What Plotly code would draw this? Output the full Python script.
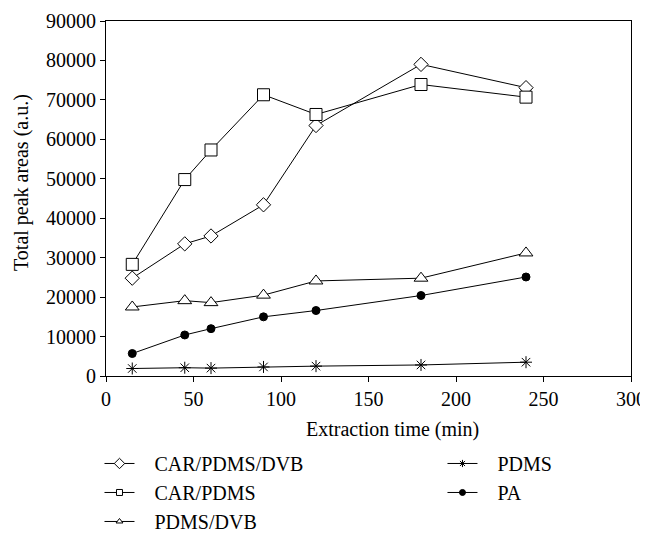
import plotly.graph_objects as go

time_min = [15, 45, 60, 90, 120, 180, 240]
car_pdms_dvb = [24800, 33500, 35500, 43400, 63500, 79000, 73100]
car_pdms = [28300, 49800, 57300, 71300, 66300, 73900, 70700]
pdms_dvb = [17500, 19100, 18600, 20500, 24100, 24800, 31200]
pdms = [1900, 2100, 2000, 2300, 2500, 2800, 3500]
pa = [5700, 10400, 12000, 15000, 16600, 20400, 25100]

FONT = "Liberation Serif"
FS = 20
PAD = "\u00a0\u00a0\u00a0"

fig = go.Figure()

def add(name, y, symbol, size, legend, lsize):
    fill = "black" if symbol in ("circle", "asterisk-open") else "white"
    fig.add_trace(go.Scatter(
        x=time_min, y=y, name=name, mode="lines+markers",
        line=dict(color="black", width=1),
        marker=dict(symbol=symbol, size=size, color=fill, line=dict(color="black", width=1)),
        showlegend=False,
    ))
    # legend entry with small marker (same style)
    fig.add_trace(go.Scatter(
        x=[None], y=[None], name=PAD + name, mode="lines+markers",
        line=dict(color="black", width=1),
        marker=dict(symbol=symbol, size=lsize, color=fill, line=dict(color="black", width=1)),
        legend=legend, showlegend=True,
    ))

add("CAR/PDMS/DVB", car_pdms_dvb, "diamond", 11, "legend", 8)
add("CAR/PDMS", car_pdms, "square", 12, "legend", 6)
add("PDMS/DVB", pdms_dvb, "triangle-up", 12, "legend", 6)
add("PDMS", pdms, "asterisk-open", 10, "legend2", 6)
add("PA", pa, "circle", 8, "legend2", 6)

legend_common = dict(
    font=dict(family=FONT, size=FS, color="black"),
    bgcolor="rgba(0,0,0,0)", orientation="v",
    xref="paper", yref="paper", xanchor="left", yanchor="top",
    tracegroupgap=0, itemsizing="trace", itemwidth=30,
)

fig.update_layout(
    width=640, height=526,
    paper_bgcolor="white", plot_bgcolor="white",
    margin=dict(l=98, r=17, t=13, b=158, autoexpand=False),
    font=dict(family=FONT, size=FS, color="black"),
    showlegend=True,
    legend=dict(x=-0.0124, y=-0.1915, **legend_common),
    legend2=dict(x=0.6409, y=-0.1915, **legend_common),
    xaxis=dict(
        range=[0, 300], tickvals=[0, 50, 100, 150, 200, 250, 300], tickformat="d",
        showgrid=False, zeroline=False, showline=True, linecolor="black", linewidth=1,
        mirror=True, ticks="outside", ticklen=5, tickcolor="black",
        tickfont=dict(family=FONT, size=FS), automargin=False,
    ),
    yaxis=dict(
        range=[0, 90000], tickvals=list(range(0, 90001, 10000)), tickformat="d",
        showgrid=False, zeroline=False, showline=True, linecolor="black", linewidth=1,
        mirror=True, ticks="outside", ticklen=5, tickcolor="black",
        tickfont=dict(family=FONT, size=FS), automargin=False,
    ),
    annotations=[
        dict(text="Extraction time (min)", xref="paper", yref="paper", x=0.5448, y=-0.152,
             xanchor="center", yanchor="middle", showarrow=False, font=dict(family=FONT, size=FS)),
        dict(text="Total peak areas (a.u.)", xref="paper", yref="paper", x=-0.16, y=0.5437,
             xanchor="center", yanchor="middle", textangle=-90, showarrow=False,
             font=dict(family=FONT, size=FS)),
    ],
)

fig.write_html("out.html")
